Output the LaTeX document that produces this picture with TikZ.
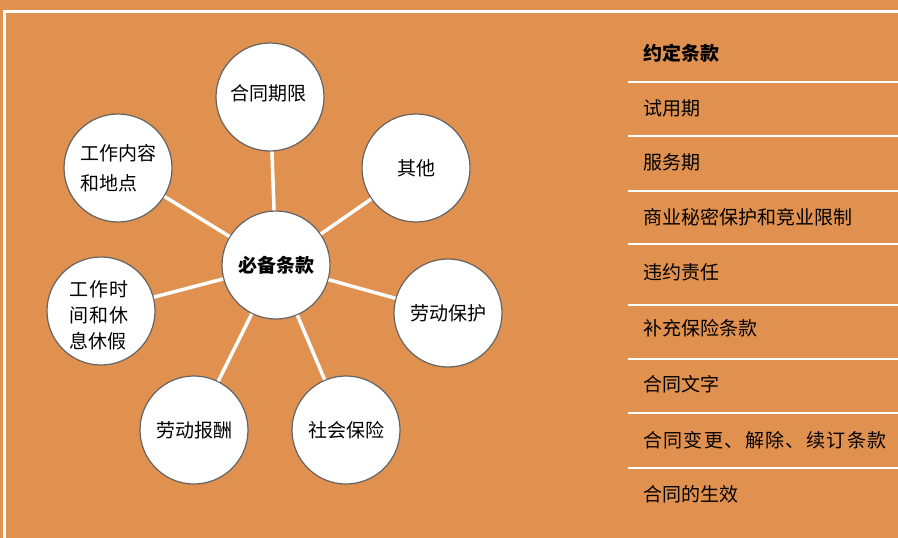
\documentclass[tikz,border=0pt]{standalone}
\usepackage{fontspec}
\setmainfont{Noto Sans CJK SC}
\definecolor{bg}{RGB}{224,144,79}
\definecolor{rim}{RGB}{100,100,100}
\newcommand{\gapA}{\kern1.4pt}
\newcommand{\gapB}{\kern1.5pt}
\begin{document}
\begin{tikzpicture}[x=1pt,y=-1pt,
  bub/.style={circle,draw=rim,line width=1.2pt,fill=white,minimum size=108pt,inner sep=0pt,
    font=\fontsize{19}{26}\selectfont,align=left},
  spoke/.style={draw=white,line width=3.5pt},
  txt/.style={inner sep=0pt,font=\fontsize{19}{26}\selectfont,align=left},
  item/.style={anchor=west,inner sep=0pt,font=\fontsize{19}{22}\selectfont},
  rulel/.style={draw=white,line width=2pt},
  frame/.style={draw=white,line width=3pt}]
\fill[bg] (0,0) rectangle (898,538);
\useasboundingbox (0,0) rectangle (898,538);
\coordinate (tl) at (4.5,11);
\coordinate (tr) at (898,11);
\coordinate (bl) at (4.5,538);
\draw[frame] (tr) -- (tl) -- (bl);
% circles
\node[bub] (core) at (276,265) {\bfseries 必备条款};
\node[bub] (qx) at (270,97) {};
\node[txt] (qxt) at (268,93) {合同期限};
\node[bub] (qt) at (416,168) {其他};
\node[bub,font=\fontsize{19}{30}\selectfont] (gz) at (118,168) {工作内容\\和地点};
\node[bub] (sj) at (101,311) {};
\node[txt] (sjt) at (99,315) {工\gapB 作\gapB 时\\间\gapB 和\gapB 休\\息休假};
\node[bub] (bh) at (448,313) {劳动保护};
\node[bub] (bc) at (194,430) {劳动报酬};
\node[bub] (sb) at (346,430) {社会保险};
\foreach \t in {qx,qt,gz,sj,bh,bc,sb} \draw[spoke] (core) -- (\t);
% right list
\foreach \n/\y in {r1/82,r2/136,r3/191,r4/244,r5/305,r6/359,r7/413,r8/468} {
  \coordinate (\n a) at (628,\y);
  \coordinate (\n b) at (898,\y);
  \draw[rulel] (\n a) -- (\n b);
}
\node[item] (t0) at (643,53) {\bfseries 约定条款};
\node[item] (t1) at (643,108) {试用期};
\node[item] (t2) at (643,162) {服务期};
\node[item] (t3) at (643,217) {商业秘密保护和竞业限制};
\node[item] (t4) at (643,272) {违约责任};
\node[item] (t5) at (643,328) {补充保险条款};
\node[item] (t6) at (643,384) {合同文字};
\node[item] (t7) at (643,440) {合\gapA 同\gapA 变\gapA 更\gapA 、\gapA 解\gapA 除\gapA 、\gapA 续\gapA 订\gapA 条\gapA 款};
\node[item] (t8) at (643,494) {合同的生效};
\end{tikzpicture}
\end{document}
